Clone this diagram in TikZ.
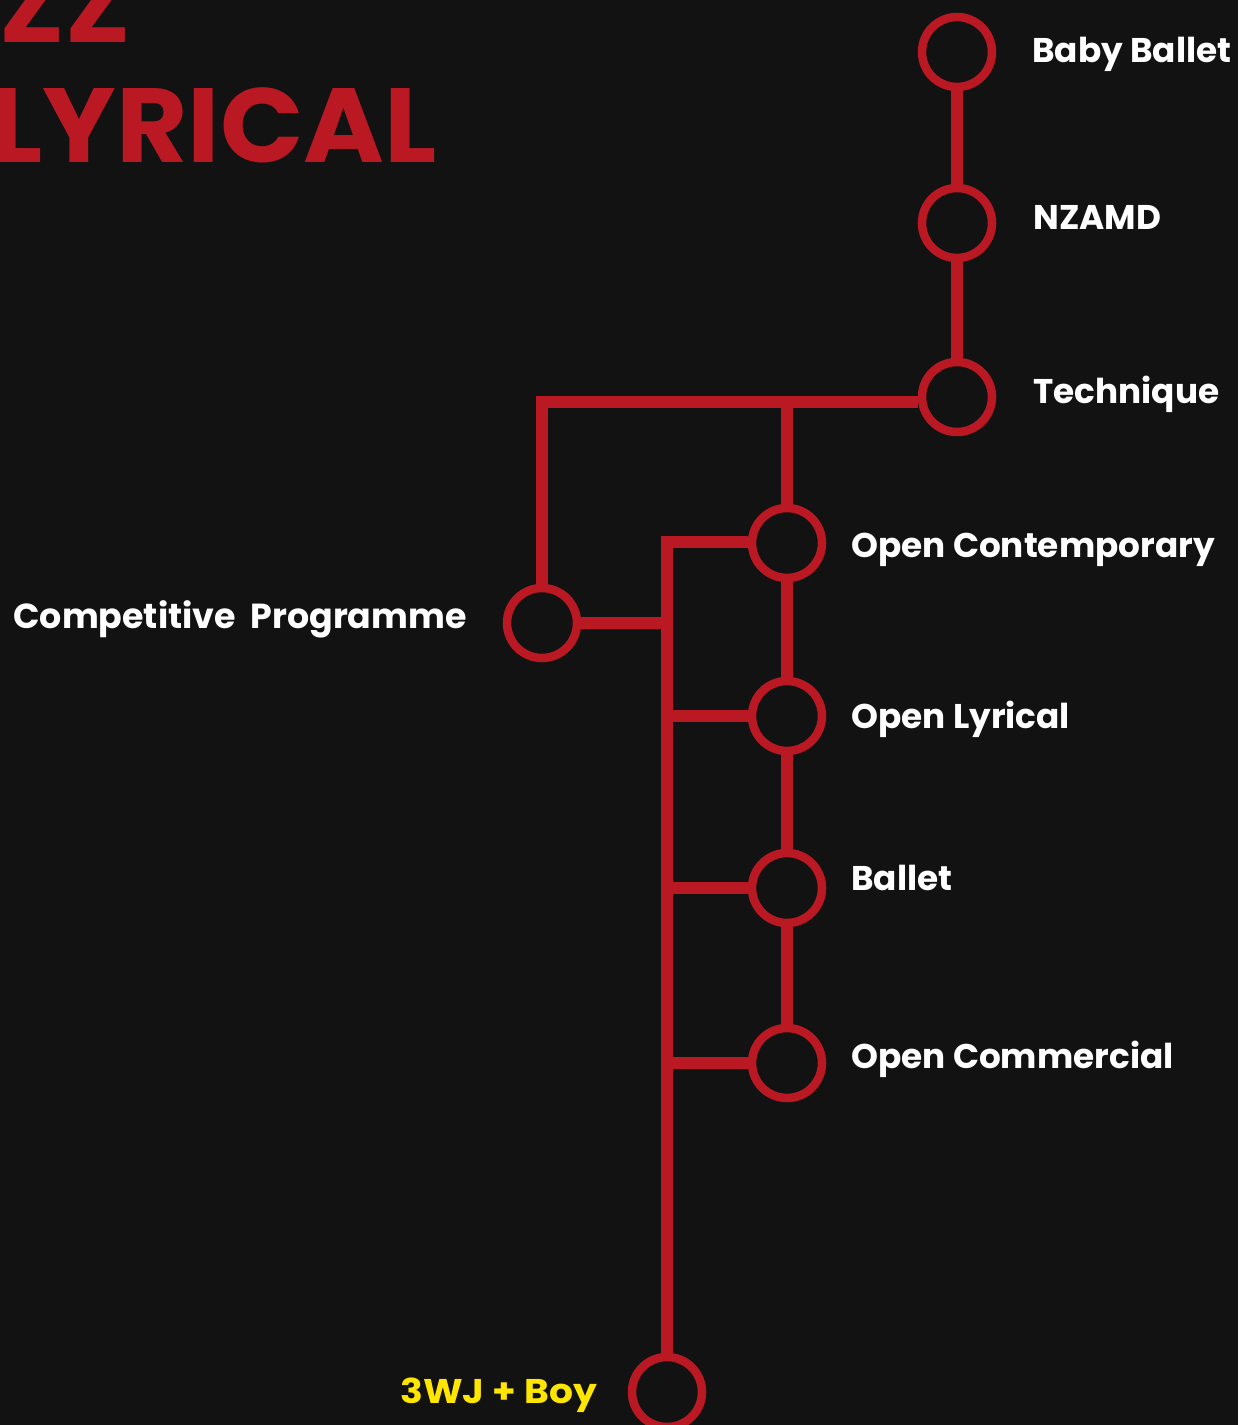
\documentclass[tikz,border=0pt]{standalone}
\usepackage{fontspec}
\setmainfont{Poppins}
\usepackage{tikz}
\usetikzlibrary{calc}

\definecolor{bgdark}{RGB}{18,18,18}
\definecolor{trackred}{RGB}{186,25,36}
\definecolor{boyyellow}{RGB}{255,230,0}

\tikzset{
  stop/.style={draw=trackred, circle, line width=0.17cm, minimum size=1.4cm, inner sep=0pt},
  link/.style={draw=trackred, line width=0.24cm},
  lbl/.style={anchor=base west, text=white, inner sep=0pt, font=\bfseries\fontsize{19.5}{20}\selectfont},
  title/.style={anchor=base east, text=trackred, inner sep=0pt, font=\bfseries\fontsize{60}{60}\selectfont}
}

\begin{document}
\begin{tikzpicture}[x=0.02cm, y=-0.02cm]
  \useasboundingbox (0,0) rectangle (1238,1425);
  \fill[bgdark] (0,0) rectangle (1238,1425);
  \clip (0,0) rectangle (1238,1425);

  % TITRE
  \node[title] (ttop) at (131,43) {\scalebox{1.04}[1]{ZZ}};
  \node[title] (tmain) at (437,163) {\scalebox{1.04}[1]{LYRICAL}};

  % ARRETS
  \node[stop] (baby)  at (957,52)  {};
  \node[stop] (nzamd) at (957,223) {};
  \node[stop] (tech)  at (957,397) {};
  \node[stop] (ocon)  at (787,543) {};
  \node[stop] (comp)  at (542,623) {};
  \node[stop] (olyr)  at (787,716) {};
  \node[stop] (ball)  at (787,888) {};
  \node[stop] (ocom)  at (787,1063) {};
  \node[stop] (wj)    at (667,1392) {};

  \coordinate (hub) at (787,402);
  \coordinate (spine) at (667,542);

  % LIGNES
  \draw[link] (baby) -- (nzamd);
  \draw[link] (nzamd) -- (tech);
  \draw[link] (tech.west |- hub) -| (comp.north);
  \draw[link] (hub) -- (ocon.north);
  \draw[link] (ocon) -- (olyr);
  \draw[link] (olyr) -- (ball);
  \draw[link] (ball) -- (ocom);
  \draw[link] (ocon.west |- spine) -| (wj.north);
  \draw[link] (comp.east) -- (comp.east -| spine);
  \draw[link] (olyr.west) -- (olyr.west -| spine);
  \draw[link] (ball.west) -- (ball.west -| spine);
  \draw[link] (ocom.west) -- (ocom.west -| spine);

  % TEXTES
  \node[lbl] (tbaby)  at (1032,63)   {Baby Ballet};
  \node[lbl] (tnzamd) at (1033,230)  {NZAMD};
  \node[lbl] (ttech)  at (1033,403)  {Technique};
  \node[lbl] (tocon)  at (851,557)   {Open Contemporary};
  \node[lbl] (tolyr)  at (851,728)   {Open Lyrical};
  \node[lbl] (tball)  at (851,890)   {Ballet};
  \node[lbl] (tocom)  at (851,1068)  {Open Commercial};
  \node[lbl, font=\bfseries\fontsize{19.8}{20}\selectfont] (tcomp) at (13,628) {Competitive\ \ Programme};
  \node[lbl, text=boyyellow] (twj) at (400,1403) {\scalebox{1.1}[1]{3WJ + Boy}};
\end{tikzpicture}
\end{document}
